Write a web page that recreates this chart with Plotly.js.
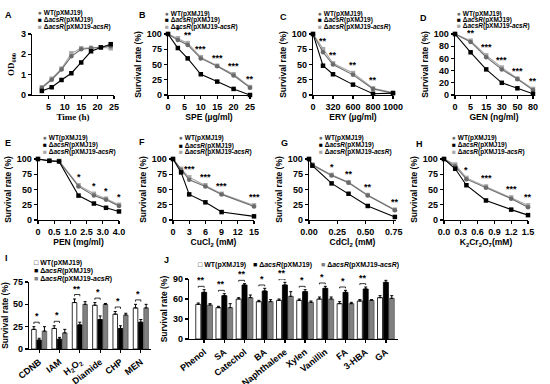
<!DOCTYPE html>
<html><head><meta charset="utf-8">
<script src="https://cdn.plot.ly/plotly-3.0.1.min.js"></script>
<style>html,body{margin:0;padding:0;background:#fff}#chart{width:550px;height:384px}</style>
</head><body><div id="chart"></div>
<script>
// ---------- DATA ----------
const seriesNames = ['WT(pXMJ19)', 'Δ<i>acsR</i>(pXMJ19)', 'Δ<i>acsR</i>(pXMJ19-<i>acsR</i>)'];

// A: growth
const timeH = [3, 6, 9, 12, 15, 18, 21, 24];
const odWT = [0.35, 0.75, 1.25, 1.9, 2.25, 2.3, 2.35, 2.4];
const odKO = [0.2, 0.38, 0.74, 1.07, 1.6, 2.15, 2.34, 2.5];
const odCP = [0.38, 0.8, 1.3, 2.05, 2.3, 2.32, 2.35, 2.3];

// B: SPE
const speX = [0, 3, 6, 10, 15, 20, 25];
const speWT = [100, 90, 82, 60, 47, 32, 12];
const speKO = [100, 77, 60, 34, 22, 10, 0];
const speCP = [100, 93, 85, 62, 48, 34, 13];
const speStars = ['', '*', '**', '***', '***', '***', '**'];

// C: ERY (points placed on the evenly spaced tick scale)
const eryPos = [0, 0.5, 1, 2, 3, 4];
const eryTickPos = [0, 1, 2, 3, 4];
const eryTicks = ['0', '320', '600', '800', '1000'];
const eryWT = [100, 70, 50, 33, 10, 3];
const eryKO = [100, 48, 34, 17, 2, 3];
const eryCP = [100, 75, 52, 36, 11, 4];
const eryStars = ['', '**', '**', '**', '**', ''];

// D: GEN
const genPos = [0, 1, 2, 3, 4, 5];
const genTicks = ['0', '5', '15', '30', '50', '80'];
const genWT = [100, 87, 62, 42, 26, 8];
const genKO = [100, 70, 42, 20, 11, 2];
const genCP = [100, 89, 65, 45, 27, 10];
const genStars = ['', '**', '***', '***', '***', '**'];

// E: PEN
const penPos = [0, 0.7, 1.3, 2.5, 3.45, 4.2, 5];
const penTickPos = [0, 1, 2, 3, 4, 5];
const penTicks = ['0', '0.5', '1.0', '2.5', '3.0', '4.0'];
const penWT = [100, 97, 96, 55, 40, 33, 23];
const penKO = [100, 97, 96, 40, 27, 20, 14];
const penCP = [100, 97, 97, 57, 43, 35, 25];
const penStars = ['', '', '', '*', '*', '*', '*'];

// F: CuCl2
const cuX = [0, 1.5, 3, 6, 9, 15];
const cuWT = [100, 82, 66, 55, 42, 22];
const cuKO = [100, 78, 42, 29, 13, 6];
const cuCP = [100, 84, 70, 57, 43, 24];
const cuStars = ['', '', '***', '***', '***', '***'];

// G: CdCl2
const cdX = [0, 0.03, 0.2, 0.35, 0.52, 0.76];
const cdWT = [100, 90, 73, 61, 40, 16];
const cdKO = [100, 89, 60, 43, 23, 5];
const cdCP = [100, 91, 74, 62, 41, 17];
const cdStars = ['', '', '*', '**', '**', '**'];

// H: K2Cr2O7
const crX = [0, 0.2, 0.4, 0.75, 1.2, 1.5];
const crWT = [100, 88, 67, 53, 35, 21];
const crKO = [100, 84, 57, 32, 17, 8];
const crCP = [100, 91, 69, 55, 37, 24];
const crStars = ['', '', '*', '***', '***', '**'];

// I: oxidants
const iCats = ['CDNB', 'IAM', 'H<sub>2</sub>O<sub>2</sub>', 'Diamide', 'CHP', 'MEN'];
const iWT = [22, 23, 52, 49, 39, 46];
const iWTerr = [3, 3, 4, 3, 3, 4];
const iKO = [10, 11, 27, 33, 23, 30];
const iKOerr = [2, 2, 3, 4, 3, 3];
const iCP = [20, 18, 50, 50, 38, 46];
const iCPerr = [5, 4, 3, 1, 2, 4];
const iStars = ['*', '*', '**', '*', '*', '*'];

// J: aromatics
const jCats = ['Phenol', 'SA', 'Catechol', 'BA', 'Naphthalene', 'Xylen', 'Vanillin', 'FA', '3-HBA', 'GA'];
const jWT = [52, 47, 60, 56, 58, 58, 60, 53, 57, 62];
const jWTerr = [2, 2, 2, 2, 2, 2, 3, 3, 2, 3];
const jKO = [70, 65, 81, 72, 81, 71, 76, 70, 75, 85];
const jKOerr = [4, 3, 2, 4, 4, 3, 3, 3, 3, 3];
const jCP = [51, 47, 62, 56, 64, 55, 60, 53, 58, 61];
const jCPerr = [2, 6, 4, 3, 7, 2, 3, 2, 1, 4];
const jStars = ['**', '**', '**', '*', '**', '*', '*', '*', '**', '**'];

// ---------- STYLE ----------
const W = 550, H = 384;
const FONT = 'Liberation Sans, Arial, sans-serif';
const SERIF = 'Liberation Serif, Times New Roman, serif';
const lineColors = ['#6a6a6a', '#000000', '#a8a8a8'];
const lineSymbols = ['circle', 'square', 'square'];
const barFills = ['#ffffff', '#000000', '#808080'];
const barLines = ['#000000', '#000000', '#555555'];

const traces = [], annotations = [], shapes = [];
const layout = {
  width: W, height: H, margin: {l: 0, r: 0, t: 0, b: 0}, showlegend: false,
  paper_bgcolor: '#fff', plot_bgcolor: 'rgba(0,0,0,0)', barmode: 'overlay',
  font: {family: FONT, color: '#000'}
};
const sfx = n => (n === 1 ? '' : String(n));
const dx = (a, b) => [a / W, b / W];
const dy = (t, b) => [1 - b / H, 1 - t / H];

function baseAxis(o) {
  return Object.assign({
    showline: true, linecolor: '#000', linewidth: 1.3, ticks: 'outside', ticklen: 3,
    tickwidth: 1.3, tickcolor: '#000', showgrid: false, zeroline: false, fixedrange: true,
    tickfont: {family: FONT, size: 9, weight: 'bold', color: '#000'}
  }, o);
}
function ttl(text, size, fam, standoff) {
  const t = {text: text, font: {family: fam || FONT, size: size || 8.5, weight: 'bold', color: '#000'}};
  if (standoff !== undefined) t.standoff = standoff;
  return t;
}
function letter(t, x, y) {
  annotations.push({xref: 'paper', yref: 'paper', x: x / W, y: 1 - y / H, xanchor: 'left', yanchor: 'top',
    text: '<b>' + t + '</b>', showarrow: false, font: {family: FONT, size: 9, color: '#000'}});
}
function lineLegend(x, ys) {
  const glyph = ['●', '■', '■'];
  for (let k = 0; k < 3; k++) {
    annotations.push({xref: 'paper', yref: 'paper', x: x / W, y: 1 - ys[k] / H, xanchor: 'left', yanchor: 'middle',
      showarrow: false,
      text: '<span style="color:' + lineColors[k] + '">' + glyph[k] + '</span> <b>' + seriesNames[k] + '</b>',
      font: {family: FONT, size: 6.5, color: '#000'}});
  }
}
function linePanel(n, box, xs, ys, stars, xcfg, ycfg) {
  const xa = 'x' + sfx(n), ya = 'y' + sfx(n);
  [2, 0, 1].forEach(k => {
    traces.push({type: 'scatter', mode: 'lines+markers', x: xs, y: ys[k], xaxis: xa, yaxis: ya,
      cliponaxis: false, hoverinfo: 'skip',
      line: {color: lineColors[k], width: 1.1},
      marker: {color: lineColors[k], size: 4.5, symbol: lineSymbols[k]}});
  });
  layout['xaxis' + sfx(n)] = baseAxis(Object.assign({domain: dx(box[0], box[1]), anchor: ya}, xcfg));
  layout['yaxis' + sfx(n)] = baseAxis(Object.assign({domain: dy(box[2], box[3]), anchor: xa}, ycfg));
  if (stars) stars.forEach((s, i) => {
    if (!s) return;
    const top = Math.max(ys[0][i], ys[1][i], ys[2][i]);
    annotations.push({xref: xa, yref: ya, x: xs[i], y: top, yshift: 1, yanchor: 'bottom', showarrow: false,
      text: '<b>' + s + '</b>', font: {family: FONT, size: 9, color: '#000'}});
  });
}
function barPanel(n, box, cats, vals, errs, stars, groupW, ycfg, tickSize) {
  const xa = 'x' + sfx(n), ya = 'y' + sfx(n);
  const idx = cats.map((c, i) => i);
  const slot = groupW / 3;
  for (let k = 0; k < 3; k++) {
    traces.push({type: 'bar', x: idx, y: vals[k], xaxis: xa, yaxis: ya, hoverinfo: 'skip',
      width: slot * 0.86, offset: -groupW / 2 + k * slot + slot * 0.07,
      marker: {color: barFills[k], line: {color: barLines[k], width: 0.8}},
      error_y: {type: 'data', symmetric: false, array: errs[k], arrayminus: errs[k].map(() => 0),
        color: '#000', thickness: 1, width: 1.5}});
  }
  layout['xaxis' + sfx(n)] = baseAxis({domain: dx(box[0], box[1]), anchor: ya, range: box[4],
    tickvals: idx, ticktext: cats, tickangle: -38,
    tickfont: {family: FONT, size: tickSize, weight: 'bold', color: '#000'}});
  layout['yaxis' + sfx(n)] = baseAxis(Object.assign({domain: dy(box[2], box[3]), anchor: xa}, ycfg));
  stars.forEach((s, i) => {
    const c0 = i - groupW / 2 + slot / 2, c1 = c0 + slot;
    const top = Math.max(vals[0][i] + errs[0][i], vals[1][i] + errs[1][i]) + 1.5;
    const y0 = top + 1.5, y1 = top + 3.5;
    shapes.push({type: 'path', xref: xa, yref: ya, layer: 'above',
      path: 'M' + c0 + ',' + y0 + ' L' + c0 + ',' + y1 + ' L' + c1 + ',' + y1 + ' L' + c1 + ',' + y0,
      line: {color: '#000', width: 0.8}});
    annotations.push({xref: xa, yref: ya, x: (c0 + c1) / 2, y: y1, yshift: -1, yanchor: 'bottom', showarrow: false,
      text: '<b>' + s + '</b>', font: {family: FONT, size: 9, color: '#000'}});
  });
}

const survY = (dt) => ({range: [0, 100], tickvals: dt, title: ttl('Survival rate (%)', 8.5, FONT, 4)});
const q = [0, 25, 50, 75, 100];
const XS = 0; // x title standoff

// A
linePanel(1, [32, 114, 34, 95], timeH, [odWT, odKO, odCP], null,
  {range: [0, 25], tickvals: [5, 10, 15, 20, 25], title: ttl('Time (h)', 9, SERIF, XS)},
  {range: [0, 3], tickvals: [0, 1, 2, 3], title: ttl('OD<sub>600</sub>', 9, SERIF, 4)});
// B
linePanel(2, [168, 250, 34, 95], speX, [speWT, speKO, speCP], speStars,
  {range: [0, 25], tickvals: [0, 5, 10, 15, 20, 25], title: ttl('SPE (µg/ml)', 8.5, FONT, XS)}, survY(q));
// C
linePanel(3, [313, 393, 34, 95], eryPos, [eryWT, eryKO, eryCP], eryStars,
  {range: [0, 4], tickvals: eryTickPos, ticktext: eryTicks, title: ttl('ERY (µg/ml)', 8.5, FONT, XS)}, survY(q));
// D
linePanel(4, [455, 533, 34, 95], genPos, [genWT, genKO, genCP], genStars,
  {range: [0, 5], tickvals: genPos, ticktext: genTicks, title: ttl('GEN (ng/ml)', 8.5, FONT, XS)}, survY([0, 20, 40, 60, 80, 100]));
// E
linePanel(5, [38, 119, 159, 220], penPos, [penWT, penKO, penCP], penStars,
  {range: [0, 5], tickvals: penTickPos, ticktext: penTicks, title: ttl('PEN (mg/ml)', 8.5, FONT, XS)}, survY(q));
// F
linePanel(6, [173, 254, 159, 220], cuX, [cuWT, cuKO, cuCP], cuStars,
  {range: [0, 15], tickvals: [0, 3, 6, 9, 12, 15], title: ttl('CuCl<sub>2</sub> (mM)', 8.5, FONT, XS)}, survY(q));
// G
linePanel(7, [309, 396, 159, 220], cdX, [cdWT, cdKO, cdCP], cdStars,
  {range: [0, 0.77], tickvals: [0, 0.25, 0.5, 0.75], ticktext: ['0.00', '0.25', '0.50', '0.75'], title: ttl('CdCl<sub>2</sub> (mM)', 8.5, FONT, XS)}, survY(q));
// H
linePanel(8, [444, 528, 159, 220], crX, [crWT, crKO, crCP], crStars,
  {range: [0, 1.5], tickvals: [0, 0.3, 0.6, 0.9, 1.2, 1.5], ticktext: ['0.0', '0.3', '0.6', '0.9', '1.2', '1.5'], title: ttl('K<sub>2</sub>Cr<sub>2</sub>O<sub>7</sub>(mM)', 8.5, FONT, XS)}, survY(q));
// I
barPanel(9, [29, 151, 282, 349, [-0.5, 5.5]], iCats, [iWT, iKO, iCP], [iWTerr, iKOerr, iCPerr], iStars, 0.78,
  {range: [0, 75], tickvals: [0, 25, 50, 75], title: ttl('Survival rate (%)', 8.5, FONT, 4)}, 9);
// J
barPanel(10, [189, 398, 279, 339, [-0.75, 9.6]], jCats, [jWT, jKO, jCP], [jWTerr, jKOerr, jCPerr], jStars, 0.87,
  {range: [0, 90], tickvals: [0, 30, 60, 90], title: ttl('Survival rate (%)', 8.5, FONT, 4)}, 9);

// legends
lineLegend(36, [12.5, 20, 27]);
lineLegend(163, [13.5, 20.5, 27]);
lineLegend(316, [13.5, 20.5, 27]);
lineLegend(455, [13.5, 20, 26.5]);
lineLegend(41, [137.5, 145, 152]);
lineLegend(177, [138.5, 145.5, 152]);
lineLegend(317, [137.5, 145, 152]);
lineLegend(450, [137.5, 145, 152]);

const boxGlyph = ['□', '■', '■'];
const boxColor = ['#000', '#000', '#808080'];
for (let k = 0; k < 3; k++) {
  annotations.push({xref: 'paper', yref: 'paper', x: 32 / W, y: 1 - [263, 271, 279][k] / H, xanchor: 'left', yanchor: 'middle',
    showarrow: false, text: '<span style="color:' + boxColor[k] + '">' + boxGlyph[k] + '</span> <b>' + seriesNames[k] + '</b>',
    font: {family: FONT, size: 7, color: '#000'}});
  annotations.push({xref: 'paper', yref: 'paper', x: [196, 251, 319][k] / W, y: 1 - 265 / H, xanchor: 'left', yanchor: 'middle',
    showarrow: false, text: '<span style="color:' + boxColor[k] + '">' + boxGlyph[k] + '</span> <b>' + seriesNames[k] + '</b>',
    font: {family: FONT, size: 7, color: '#000'}});
}

letter('A', 3, 8); letter('B', 137, 8); letter('C', 278, 10); letter('D', 418, 11);
letter('E', 3, 136); letter('F', 137, 135); letter('G', 279, 136); letter('H', 414, 137);
letter('I', 3, 251); letter('J', 162, 253);

layout.annotations = annotations;
layout.shapes = shapes;
Plotly.newPlot('chart', traces, layout, {staticPlot: true, displayModeBar: false});
</script></body></html>
